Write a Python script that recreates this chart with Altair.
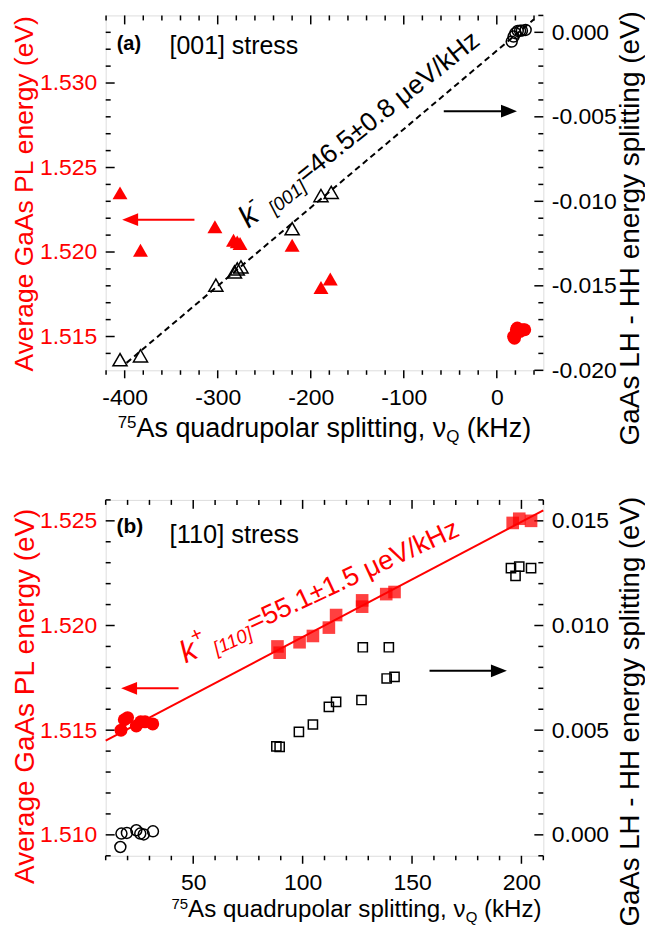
import altair as alt
import pandas as pd

FONT = "Liberation Sans"
RED = "#ff0000"
W = 439
HA = 356
HB = 357

# ---------------- panel (a) ----------------
a_xdom = [-420.4, 50]
a_ldom = [1.513, 1.534]
a_rdom = [-0.020, 0.001]

a_pl_tri_x = [-405, -383, -303, -283, -279, -276, -220, -189, -179]
a_pl_tri_y = [1.5235, 1.5201, 1.5215, 1.5207, 1.5206, 1.5205, 1.5204, 1.5179, 1.5184]
a_pl_circ_x = [18, 19, 21, 22, 25, 28, 30]
a_pl_circ_y = [1.5150, 1.5149, 1.5154, 1.5155, 1.5153, 1.5154, 1.5154]
a_sp_tri_x = [-405, -383, -302, -282, -279, -275, -220, -189, -178]
a_sp_tri_y = [-0.01937, -0.01914, -0.01496, -0.01418, -0.01400, -0.01388, -0.01162, -0.00966, -0.00947]
a_sp_circ_x = [16, 18, 20, 22.5, 25, 27, 31]
a_sp_circ_y = [-0.00055, -0.00025, -0.00005, 0.00008, 0.0001, 0.0001, 0.00014]
a_fit_x = [-398, 40]
a_fit_y = [-0.01956, 0.00077]

a_xmaj = [-400, -300, -200, -100, 0]
a_xmin = [-420, -380, -360, -340, -320, -280, -260, -240, -220, -180, -160, -140, -120, -80, -60, -40, -20, 20, 40]
a_lmaj = [1.515, 1.520, 1.525, 1.530]
a_lmin = [1.514, 1.516, 1.517, 1.518, 1.519, 1.521, 1.522, 1.523, 1.524, 1.526, 1.527, 1.528, 1.529, 1.531, 1.532, 1.533]
a_rmaj = [-0.020, -0.015, -0.010, -0.005, 0.000]
a_rmin = [-0.019, -0.018, -0.017, -0.016, -0.014, -0.013, -0.012, -0.011, -0.009, -0.008, -0.007, -0.006, -0.004, -0.003, -0.002, -0.001, 0.001]

a_red_arrow = {"x1": -325, "x2": -386, "head": -394.1, "y": 1.52191}
a_blk_arrow = {"x1": -57, "x2": 5.0, "head": 13.1, "y": -0.004665}

# ---------------- panel (b) ----------------
b_xdom = [10, 210]
b_ldom = [1.509, 1.526]
b_rdom = [-0.001, 0.016]

b_pl_circ_x = [17, 18.5, 20, 24, 26, 28, 31.5]
b_pl_circ_y = [1.5150, 1.5155, 1.5156, 1.5152, 1.5154, 1.5154, 1.5153]
b_pl_sq_x = [88.5, 89.5, 98.6, 104.7, 112, 115.3, 127.2, 127.2, 138.2, 142, 196, 199, 204.4]
b_pl_sq_y = [1.5190, 1.5187, 1.5192, 1.5195, 1.5199, 1.5205, 1.5209, 1.5212, 1.5215, 1.5216, 1.5249, 1.5251, 1.5250]
b_sp_sq_x = [88, 89.5, 98.3, 104.7, 112, 115.3, 126.9, 127.5, 138.4, 142, 139.4, 195.2, 197.3, 199, 204.4]
b_sp_sq_y = [0.00423, 0.0042, 0.00492, 0.00527, 0.00611, 0.00635, 0.00644, 0.00896, 0.00747, 0.00755, 0.00896, 0.01274, 0.01237, 0.01281, 0.01274]
b_sp_circ_x = [16.7, 17.2, 19.7, 24.0, 25.8, 27.4, 31.6]
b_sp_circ_y = [-0.00058, 0.00006, 0.00009, 0.00022, 0.00006, 0.00002, 0.00017]
b_fit_x = [10, 210]
b_fit_y = [1.5145, 1.5255]

b_xmaj = [50, 100, 150, 200]
b_xmin = [10, 20, 30, 40, 60, 70, 80, 90, 110, 120, 130, 140, 160, 170, 180, 190, 210]
b_lmaj = [1.510, 1.515, 1.520, 1.525]
b_lmin = [1.509, 1.511, 1.512, 1.513, 1.514, 1.516, 1.517, 1.518, 1.519, 1.521, 1.522, 1.523, 1.524, 1.526]
b_rmaj = [0.000, 0.005, 0.010, 0.015]
b_rmin = [-0.001, 0.001, 0.002, 0.003, 0.004, 0.006, 0.007, 0.008, 0.009, 0.011, 0.012, 0.013, 0.014, 0.016]

b_red_arrow = {"x1": 43.3, "x2": 24.2, "head": 20.7, "y": 1.5170}
b_blk_arrow = {"x1": 158, "x2": 186.3, "head": 189.7, "y": 0.007837}

# annotation texts
a_label = ["(a)", "[001] stress"]
a_label_pos = [(-408.6, 1.53198), (-351.8, 1.53169)]
b_label = ["(b)", "[110] stress"]
b_label_pos = [(14.9, 1.52444), (39.2, 1.52393)]
a_slope_parts = ["k", "-", "[001]", "=46.5\u00b10.8 \u03bceV/kHz"]
b_slope_parts = ["k", "+", "[110]", "=55.1\u00b11.5 \u03bceV/kHz"]
a_slope_anchor = (-266.8, 1.52138)
b_slope_anchor = (46.5, 1.51819)
xtitle_parts = ["75", "As quadrupolar splitting, \u03bd", "Q", "(kHz)"]

NEG = "datum.value < 0 ? '-' + format(-datum.value, '{f}') : format(datum.value, '{f}')"


def xenc(field, dom, values):
    return alt.X(f"{field}:Q", scale=alt.Scale(domain=dom, nice=False, zero=False),
                 axis=alt.Axis(values=values, title=None, ticks=False, tickSize=0, domain=False,
                               grid=False, labelFont=FONT, labelFontSize=23, labelColor="black",
                               labelPadding=16, labelExpr=NEG.format(f="d")))


def yenc(field, dom, axis=None):
    return alt.Y(f"{field}:Q", scale=alt.Scale(domain=dom, nice=False, zero=False), axis=axis)


def left_axis(values, title_size, title_y):
    return alt.Axis(orient="left", values=values, title="Average GaAs PL energy (eV)", ticks=False,
                    tickSize=0, domain=False, grid=False, labelFont=FONT, labelFontSize=23,
                    labelColor=RED, labelPadding=9, labelExpr=NEG.format(f=".3f"),
                    titleFont=FONT, titleFontSize=title_size, titleColor=RED, titleFontWeight="normal",
                    titleAngle=270, titleAlign="center", titleBaseline="top", titleX=-94, titleY=title_y)


def right_axis(values, title_size, title_y):
    return alt.Axis(orient="right", values=values, title="GaAs LH - HH energy splitting (eV)",
                    ticks=False, tickSize=0, domain=False, grid=False, labelFont=FONT,
                    labelFontSize=23, labelColor="black", labelPadding=8,
                    labelExpr=NEG.format(f=".3f"), titleFont=FONT, titleFontSize=title_size,
                    titleColor="black", titleFontWeight="normal", titleAngle=270,
                    titleAlign="center", titleBaseline="top", titleX=73, titleY=title_y)


def df(xs, ys):
    return pd.DataFrame({"x": xs, "y": ys})


def ticks(H, xdom, ldom, rdom, xmaj, xmin, lmaj, lmin, rmaj, rmin):
    layers = []
    sw = 1.5
    for vals, length in [(xmaj, 8), (xmin, 4.5)]:
        d = pd.DataFrame({"v": vals})
        layers.append(alt.Chart(d).mark_rule(color="black", strokeWidth=sw).encode(
            x=xenc("v", xdom, xmaj), y=alt.value(H), y2=alt.value(H + length)))
    for vals, length in [(xmaj, 9), (xmin, 5)]:
        d = pd.DataFrame({"v": vals})
        layers.append(alt.Chart(d).mark_rule(color="black", strokeWidth=sw).encode(
            x=xenc("v", xdom, xmaj), y=alt.value(0), y2=alt.value(length)))
    for vals, length in [(lmaj, 9), (lmin, 5)]:
        d = pd.DataFrame({"v": vals})
        layers.append(alt.Chart(d).mark_rule(color="black", strokeWidth=sw).encode(
            y=yenc("v", ldom), x=alt.value(0), x2=alt.value(length)))
    for vals, length in [(rmaj, 9), (rmin, 5)]:
        d = pd.DataFrame({"v": vals})
        layers.append(alt.Chart(d).mark_rule(color="black", strokeWidth=sw).encode(
            y=yenc("v", rdom), x=alt.value(W - length), x2=alt.value(W)))
    return layers


def arrow(arr, xdom, ydom, xmaj, color, direction):
    shaft = alt.Chart(df([arr["x1"], arr["x2"]], [arr["y"], arr["y"]])).mark_line(
        color=color, strokeWidth=2).encode(x=xenc("x", xdom, xmaj), y=yenc("y", ydom))
    path = "M-1,0 L1,-0.8 L1,0.8 Z" if direction == "left" else "M1,0 L-1,-0.8 L-1,0.8 Z"
    head = alt.Chart(df([arr["head"]], [arr["y"]])).mark_point(
        shape=path, filled=True, color=color, opacity=1, size=256, strokeWidth=0).encode(
        x=xenc("x", xdom, xmaj), y=yenc("y", ydom))
    return [shaft, head]


def txt(x, y, xdom, ydom, xmaj, text, size, color, dx=0, dy=0, angle=0, italic=False, bold=False):
    d = pd.DataFrame({"x": [x], "y": [y], "t": [text]})
    kw = dict(align="left", baseline="alphabetic", dx=dx, dy=dy, fontSize=size, font=FONT,
              color=color, fontStyle="italic" if italic else "normal",
              fontWeight="bold" if bold else "normal")
    if angle:
        kw["angle"] = angle
    return alt.Chart(d).mark_text(**kw).encode(
        x=xenc("x", xdom, xmaj), y=yenc("y", ydom), text="t:N")


def xtitle(H, start, base, f, s, sup_dy):
    w_sup = 1.112 * s
    w_main = 11.505 * f
    w_q = 0.778 * s
    w_sp = 0.278 * f
    pos = [start, start + w_sup, start + w_sup + w_main, start + w_sup + w_main + w_q + w_sp]
    sizes = [s, f, s, f]
    dys = [sup_dy, 0, 5, 0]
    layers = []
    for t, p, sz, dy in zip(xtitle_parts, pos, sizes, dys):
        d = pd.DataFrame({"t": [t]})
        layers.append(alt.Chart(d).mark_text(align="left", baseline="alphabetic", fontSize=sz,
                                             font=FONT, color="black", dy=dy).encode(
            x=alt.value(p), y=alt.value(H + base), text="t:N"))
    return layers


def slope_text(anchor, parts, xdom, ldom, xmaj, color, angle, sizes, offsets):
    (ax, ay) = anchor
    ital = [True, False, True, False]
    layers = []
    for t, sz, it, (dx, dy) in zip(parts, sizes, ital, offsets):
        layers.append(txt(ax, ay, xdom, ldom, xmaj, t, sz, color, dx=dx, dy=dy, angle=angle, italic=it))
    return layers


# ---------- build panel (a) ----------
la = ticks(HA, a_xdom, a_ldom, a_rdom, a_xmaj, a_xmin, a_lmaj, a_lmin, a_rmaj, a_rmin)
la.append(alt.Chart(df(a_fit_x, a_fit_y)).mark_line(color="black", strokeWidth=2, strokeDash=[6, 4]).encode(
    x=xenc("x", a_xdom, a_xmaj), y=yenc("y", a_rdom)))
la.append(alt.Chart(df(a_pl_tri_x, a_pl_tri_y)).mark_point(shape="triangle-up", filled=True, color=RED,
                                                            opacity=1, size=225).encode(
    x=xenc("x", a_xdom, a_xmaj), y=yenc("y", a_ldom, left_axis(a_lmaj, 26.5, 178.5))))
la.append(alt.Chart(df(a_sp_tri_x, a_sp_tri_y)).mark_point(shape="triangle-up", filled=False, color="black",
                                                            opacity=1, size=200, strokeWidth=1.5).encode(
    x=xenc("x", a_xdom, a_xmaj), y=yenc("y", a_rdom, right_axis(a_rmaj, 28, 213))))
la.append(alt.Chart(df(a_pl_circ_x, a_pl_circ_y)).mark_point(shape="circle", filled=True, color=RED,
                                                              opacity=1, size=169).encode(
    x=xenc("x", a_xdom, a_xmaj), y=yenc("y", a_ldom)))
la.append(alt.Chart(df(a_sp_circ_x, a_sp_circ_y)).mark_point(shape="circle", filled=False, color="black",
                                                              opacity=1, size=121, strokeWidth=1.5).encode(
    x=xenc("x", a_xdom, a_xmaj), y=yenc("y", a_rdom)))
la += arrow(a_red_arrow, a_xdom, a_ldom, a_xmaj, RED, "left")
la += arrow(a_blk_arrow, a_xdom, a_rdom, a_xmaj, "black", "right")
la.append(txt(a_label_pos[0][0], a_label_pos[0][1], a_xdom, a_ldom, a_xmaj, a_label[0], 20, "black", bold=True))
la.append(txt(a_label_pos[1][0], a_label_pos[1][1], a_xdom, a_ldom, a_xmaj, a_label[1], 25, "black"))
la += slope_text(a_slope_anchor, a_slope_parts, a_xdom, a_ldom, a_xmaj, "black", 321.5,
                 [31, 20, 19, 26.5], [(0, 0), (16, -15), (29, 6), (72, 0)])
la += xtitle(HA, 12, 67, 27, 17, -9)

panel_a = alt.layer(*la).resolve_scale(y="independent").properties(width=W, height=HA)

# ---------- build panel (b) ----------
lb = ticks(HB, b_xdom, b_ldom, b_rdom, b_xmaj, b_xmin, b_lmaj, b_lmin, b_rmaj, b_rmin)
lb.append(alt.Chart(df(b_pl_sq_x, b_pl_sq_y)).mark_point(shape="square", filled=True, color=RED,
                                                          opacity=0.75, size=160).encode(
    x=xenc("x", b_xdom, b_xmaj), y=yenc("y", b_ldom, left_axis(b_lmaj, 28, 196.5))))
lb.append(alt.Chart(df(b_sp_sq_x, b_sp_sq_y)).mark_point(shape="square", filled=False, color="black",
                                                          opacity=1, size=85, strokeWidth=1.5).encode(
    x=xenc("x", b_xdom, b_xmaj), y=yenc("y", b_rdom, right_axis(b_rmaj, 27.7, 212))))
lb.append(alt.Chart(df(b_fit_x, b_fit_y)).mark_line(color=RED, strokeWidth=2).encode(
    x=xenc("x", b_xdom, b_xmaj), y=yenc("y", b_ldom)))
lb.append(alt.Chart(df(b_pl_circ_x, b_pl_circ_y)).mark_point(shape="circle", filled=True, color=RED,
                                                              opacity=1, size=169).encode(
    x=xenc("x", b_xdom, b_xmaj), y=yenc("y", b_ldom)))
lb.append(alt.Chart(df(b_sp_circ_x, b_sp_circ_y)).mark_point(shape="circle", filled=False, color="black",
                                                              opacity=1, size=121, strokeWidth=1.5).encode(
    x=xenc("x", b_xdom, b_xmaj), y=yenc("y", b_rdom)))
lb += arrow(b_red_arrow, b_xdom, b_ldom, b_xmaj, RED, "left")
lb += arrow(b_blk_arrow, b_xdom, b_rdom, b_xmaj, "black", "right")
lb.append(txt(b_label_pos[0][0], b_label_pos[0][1], b_xdom, b_ldom, b_xmaj, b_label[0], 21, "black", bold=True))
lb.append(txt(b_label_pos[1][0], b_label_pos[1][1], b_xdom, b_ldom, b_xmaj, b_label[1], 25.5, "black"))
lb += slope_text(b_slope_anchor, b_slope_parts, b_xdom, b_ldom, b_xmaj, RED, 335,
                 [31, 20, 19, 27], [(0, 0), (16, -15), (32, 6), (74, 0)])
lb += xtitle(HB, 66, 61, 24.2, 15, -8)

panel_b = alt.layer(*lb).resolve_scale(y="independent").properties(width=W, height=HB)

chart = alt.vconcat(panel_a, panel_b, spacing=130, bounds="flush").properties(
    padding={"left": 3, "top": 0, "right": 0, "bottom": 0}
).configure_view(stroke="black", strokeWidth=1.8).configure(font=FONT)

chart.save("out.html", embed_options={"renderer": "svg", "actions": False})
